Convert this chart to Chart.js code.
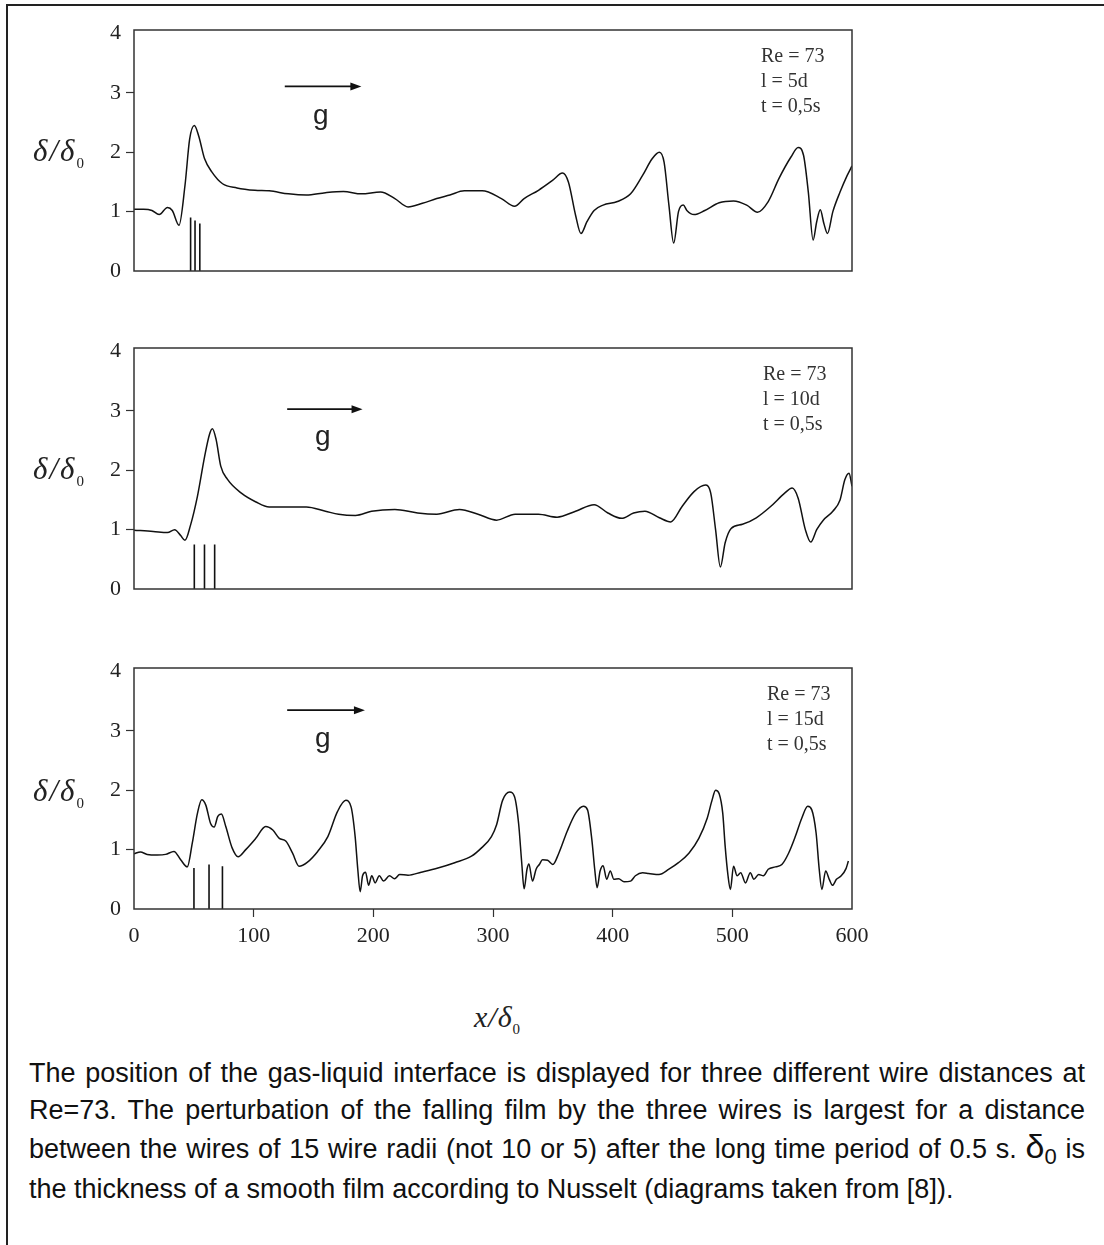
<!DOCTYPE html>
<html>
<head>
<meta charset="utf-8">
<title>Film thickness after three wires</title>
<script src="https://cdn.jsdelivr.net/npm/chart.js@4.4.1/dist/chart.umd.min.js"></script>
<style>
  html, body { margin: 0; padding: 0; background: #fff; }
  body { width: 1104px; height: 1245px; overflow: hidden; position: relative; }
  .frame { position: absolute; left: 6px; top: 4px; width: 1200px; height: 1300px;
           border: 2px solid #222; box-sizing: border-box; }
  canvas { position: absolute; left: 0; }
  .ylab { position: absolute; left: 33px; font: italic 31px "Liberation Serif", serif;
          letter-spacing: 2px; color: #222; line-height: 32px; white-space: nowrap; }
  .ylab sub, .xlab sub { font-style: normal; font-size: 15px; vertical-align: -7px; letter-spacing: 0; }
  .params { position: absolute; font: 20px "Liberation Serif", serif; color: #333;
            line-height: 25px; white-space: pre; }
  .g { position: absolute; font: 28px "Liberation Sans", Arial, sans-serif; color: #222; line-height: 28px; }
  .xlab { position: absolute; left: 474px; top: 1001px; font: italic 30px "Liberation Serif", serif;
          letter-spacing: 1px; color: #222; line-height: 32px; }
  .cap { position: absolute; left: 29px; width: 1056px; font: 27px "Liberation Sans", Arial, sans-serif;
         color: #111; line-height: 36px; white-space: nowrap; }
  .cap.j { text-align: justify; text-align-last: justify; white-space: normal; }
  .cap .d0 { font-size: 34px; }
  .cap .d0 sub { font-size: 22px; vertical-align: -6px; }
</style>
</head>
<body>
<div class="frame"></div>

<canvas id="c5" width="900" height="300" style="top:0px"></canvas>
<canvas id="c10" width="900" height="300" style="top:318px"></canvas>
<canvas id="c15" width="900" height="320" style="top:638px"></canvas>

<div class="ylab" style="top:135px">δ/δ<sub>0</sub></div>
<div class="ylab" style="top:453px">δ/δ<sub>0</sub></div>
<div class="ylab" style="top:775px">δ/δ<sub>0</sub></div>

<div class="g" style="left:313px; top:101px">g</div>
<div class="g" style="left:315px; top:422px">g</div>
<div class="g" style="left:315px; top:724px">g</div>

<div class="params" style="left:761px; top:43px">Re = 73
l = 5d
t = 0,5s</div>
<div class="params" style="left:763px; top:361px">Re = 73
l = 10d
t = 0,5s</div>
<div class="params" style="left:767px; top:681px">Re = 73
l = 15d
t = 0,5s</div>

<div class="xlab">x/δ<sub>0</sub></div>

<div class="cap j" style="top:1055px">The position of the gas-liquid interface is displayed for three different wire distances at</div>
<div class="cap j" style="top:1092px">Re=73. The perturbation of the falling film by the three wires is largest for a distance</div>
<div class="cap j" style="top:1128px">between the wires of 15 wire radii (not 10 or 5) after the long time period of 0.5 s. <span class="d0">δ<sub>0</sub></span> is</div>
<div class="cap" style="top:1171px">the thickness of a smooth film according to Nusselt (diagrams taken from [8]).</div>

<script>
// ── axes ──
const xTicks = [0, 100, 200, 300, 400, 500, 600];
const yTicks = [0, 1, 2, 3, 4];
const yMarked = [1, 2, 3];          // ticks that carry a small dash
const xMarked = [100, 200, 300, 400, 500];

// ── l = 5d ──
const film5X = [0, 8, 15, 21, 28, 32, 37.6, 42.6, 46.5, 50.4, 54, 59, 65, 74, 86, 101, 113, 129, 144, 160,
  175, 190, 206, 218, 229, 241, 253, 264, 276, 291, 307, 318, 326, 338, 350, 358, 363, 369, 373.5, 378.5,
  384.5, 392, 404, 415, 425, 433, 439, 443, 447, 451, 455, 459, 462, 468, 477, 489, 501, 512, 521, 530,
  539, 549, 555, 559.5, 563.5, 567.5, 570.5, 573.5, 576.5, 579.5, 584, 590, 596, 600];
const film5Y = [1.04, 1.04, 1.02, 0.95, 1.07, 1.02, 0.77, 1.44, 2.22, 2.45, 2.28, 1.89, 1.67, 1.47, 1.40,
  1.36, 1.35, 1.30, 1.28, 1.32, 1.34, 1.30, 1.33, 1.22, 1.08, 1.14, 1.22, 1.28, 1.35, 1.35, 1.22, 1.09,
  1.22, 1.36, 1.53, 1.65, 1.50, 0.94, 0.63, 0.83, 1.02, 1.11, 1.17, 1.30, 1.61, 1.89, 2.00, 1.83, 1.11,
  0.47, 1.00, 1.11, 1.02, 0.95, 1.02, 1.15, 1.18, 1.11, 0.99, 1.17, 1.56, 1.92, 2.08, 1.95, 1.33, 0.52,
  0.83, 1.03, 0.80, 0.63, 1.00, 1.33, 1.61, 1.77];
const wires5X = [47.3, 51, 55];
const wires5H = [0.9, 0.85, 0.8];

// ── l = 10d ──
const film10X = [0, 16, 28, 34, 39, 42.6, 47.3, 53, 59, 63, 65.5, 68.6, 72.5, 78, 90, 101.5, 113, 129, 144,
  160, 171, 185, 198.5, 218, 237, 253, 272, 287.5, 303, 318.5, 338, 353.5, 369, 384.5, 396, 407.5, 417.5,
  427, 439, 448.5, 458, 468, 477.5, 482, 486, 490, 494, 499, 508.5, 520, 532, 543.5, 550, 555, 561, 565.5,
  570.5, 576, 584, 590, 594, 597.5, 600];
const film10Y = [0.99, 0.97, 0.95, 1.00, 0.90, 0.82, 1.08, 1.56, 2.23, 2.60, 2.70, 2.52, 2.07, 1.85, 1.61,
  1.47, 1.38, 1.38, 1.38, 1.31, 1.26, 1.24, 1.31, 1.34, 1.28, 1.26, 1.34, 1.26, 1.16, 1.26, 1.26, 1.21,
  1.31, 1.42, 1.28, 1.19, 1.28, 1.31, 1.20, 1.13, 1.39, 1.64, 1.75, 1.61, 1.00, 0.37, 0.78, 1.02, 1.09,
  1.20, 1.39, 1.61, 1.70, 1.53, 1.00, 0.79, 1.00, 1.16, 1.31, 1.50, 1.84, 1.95, 1.73];
const wires10X = [50.4, 58.9, 67.4];
const wires10H = [0.75, 0.75, 0.75];

// ── l = 15d ──
const film15X = [0, 5.4, 11, 19.4, 26.4, 33.4, 39, 44.5, 48.7, 53, 56.6, 60, 64, 67, 70, 73, 76.7, 82, 87,
  93.4, 101.8, 110, 116, 121.4, 127, 132.5, 138, 145, 153.5, 162, 170, 177, 181.4, 184.8, 187, 189, 191,
  193.5, 196, 198.7, 201.5, 205, 208.5, 213.5, 217.7, 222, 229, 240, 254, 268, 282, 290.4, 298.7, 303, 308,
  314, 318, 321.4, 324, 326, 328.4, 330, 333, 336, 338.7, 341.4, 345.6, 350, 355, 362, 369, 375.6, 379,
  382.6, 385, 387, 389.5, 392, 395, 398, 401, 405, 409.5, 415, 419, 425, 430, 438.7, 447, 455, 463.7, 472,
  479, 483, 486, 489, 492, 494, 496.4, 498.4, 501, 504, 507, 511, 515, 518, 522, 526, 530, 536, 541.4,
  547, 552.6, 558, 563, 566.4, 570, 572.6, 574.8, 578, 581, 583.7, 587, 591, 595, 597];
const film15Y = [0.93, 0.96, 0.92, 0.91, 0.92, 0.97, 0.83, 0.71, 1.11, 1.61, 1.84, 1.75, 1.44, 1.38, 1.56,
  1.60, 1.39, 1.03, 0.88, 1.00, 1.19, 1.39, 1.33, 1.19, 1.14, 0.94, 0.72, 0.79, 0.97, 1.22, 1.64, 1.83,
  1.72, 1.22, 0.67, 0.29, 0.56, 0.62, 0.40, 0.56, 0.44, 0.56, 0.47, 0.56, 0.51, 0.58, 0.57, 0.62, 0.69,
  0.78, 0.89, 1.03, 1.22, 1.42, 1.83, 1.97, 1.89, 1.44, 0.78, 0.34, 0.67, 0.76, 0.47, 0.67, 0.75, 0.83,
  0.82, 0.75, 0.94, 1.31, 1.61, 1.73, 1.67, 1.17, 0.67, 0.36, 0.64, 0.73, 0.50, 0.64, 0.50, 0.51, 0.46,
  0.47, 0.56, 0.61, 0.60, 0.58, 0.67, 0.78, 0.94, 1.19, 1.53, 1.83, 2.00, 1.94, 1.61, 1.06, 0.56, 0.33,
  0.72, 0.56, 0.61, 0.44, 0.61, 0.50, 0.58, 0.56, 0.67, 0.71, 0.75, 0.94, 1.22, 1.53, 1.73, 1.67, 1.28,
  0.67, 0.33, 0.64, 0.50, 0.40, 0.50, 0.56, 0.68, 0.81];
const wires15X = [50.1, 62.7, 73.9];
const wires15H = [0.69, 0.75, 0.72];

// arrow under "g": x from / to, and height, in data units of each panel
const arrows = {
  c5:  { x0: 126, x1: 190, y: 3.11 },
  c10: { x0: 128, x1: 191, y: 3.03 },
  c15: { x0: 128, x1: 193, y: 3.35 },
};

const pts = (xs, ys) => xs.map((x, i) => ({ x, y: ys[i] }));
const wireLines = (xs, hs) => xs.flatMap((x, i) => [{ x, y: 0 }, { x, y: hs[i] }, { x, y: null }]);

const serif = { family: '"Liberation Serif", "Times New Roman", serif', size: 22 };

// box around the plot + the gravity arrow
const framePlugin = {
  id: 'frame',
  afterDraw(chart) {
    const { ctx, chartArea: a, scales } = chart;
    ctx.save();
    ctx.strokeStyle = '#333'; ctx.lineWidth = 1.5;
    ctx.strokeRect(a.left, a.top, a.right - a.left, a.bottom - a.top);

    const ar = arrows[chart.canvas.id];
    const x0 = scales.x.getPixelForValue(ar.x0);
    const x1 = scales.x.getPixelForValue(ar.x1);
    const y  = scales.y.getPixelForValue(ar.y);
    ctx.strokeStyle = '#111'; ctx.fillStyle = '#111'; ctx.lineWidth = 1.6;
    ctx.beginPath(); ctx.moveTo(x0, y); ctx.lineTo(x1 - 8, y); ctx.stroke();
    ctx.beginPath(); ctx.moveTo(x1, y); ctx.lineTo(x1 - 11, y - 4); ctx.lineTo(x1 - 11, y + 4);
    ctx.closePath(); ctx.fill();
    ctx.restore();
  },
};

function makePanel(id, filmX, filmY, wX, wH, showX) {
  const bottomPad = showX ? 9 : 29;
  return new Chart(document.getElementById(id), {
    type: 'scatter',
    data: {
      datasets: [
        { data: pts(filmX, filmY), showLine: true, pointRadius: 0, borderColor: '#111',
          borderWidth: 1.5, cubicInterpolationMode: 'monotone' },
        { data: wireLines(wX, wH), showLine: true, pointRadius: 0, borderColor: '#111',
          borderWidth: 1.6, spanGaps: false },
      ],
    },
    options: {
      responsive: false, animation: false, devicePixelRatio: 1,
      layout: { padding: { top: 30, right: 48, bottom: bottomPad, left: 0 } },
      scales: {
        x: {
          type: 'linear', min: 0, max: 600, display: showX,
          afterBuildTicks: s => { s.ticks = xTicks.map(v => ({ value: v })); },
          afterFit: s => { s.height = showX ? 40 : 0; },
          border: { display: false },
          grid: { drawOnChartArea: false, tickLength: 8, tickWidth: 1.2,
                  tickColor: c => xMarked.includes(c.tick && c.tick.value) ? '#333' : 'rgba(0,0,0,0)' },
          ticks: { color: '#222', font: serif, padding: 6, maxRotation: 0 },
        },
        y: {
          type: 'linear', min: 0, max: 4.06,
          afterBuildTicks: s => { s.ticks = yTicks.map(v => ({ value: v })); },
          afterFit: s => { s.width = 134; },
          border: { display: false },
          grid: { drawOnChartArea: false, tickLength: 8, tickWidth: 1.2,
                  tickColor: c => yMarked.includes(c.tick && c.tick.value) ? '#333' : 'rgba(0,0,0,0)' },
          ticks: { color: '#222', font: serif, padding: 5 },
        },
      },
      plugins: { legend: { display: false }, tooltip: { enabled: false } },
    },
    plugins: [framePlugin],
  });
}

makePanel('c5',  film5X,  film5Y,  wires5X,  wires5H,  false);
makePanel('c10', film10X, film10Y, wires10X, wires10H, false);
makePanel('c15', film15X, film15Y, wires15X, wires15H, true);
</script>
</body>
</html>
